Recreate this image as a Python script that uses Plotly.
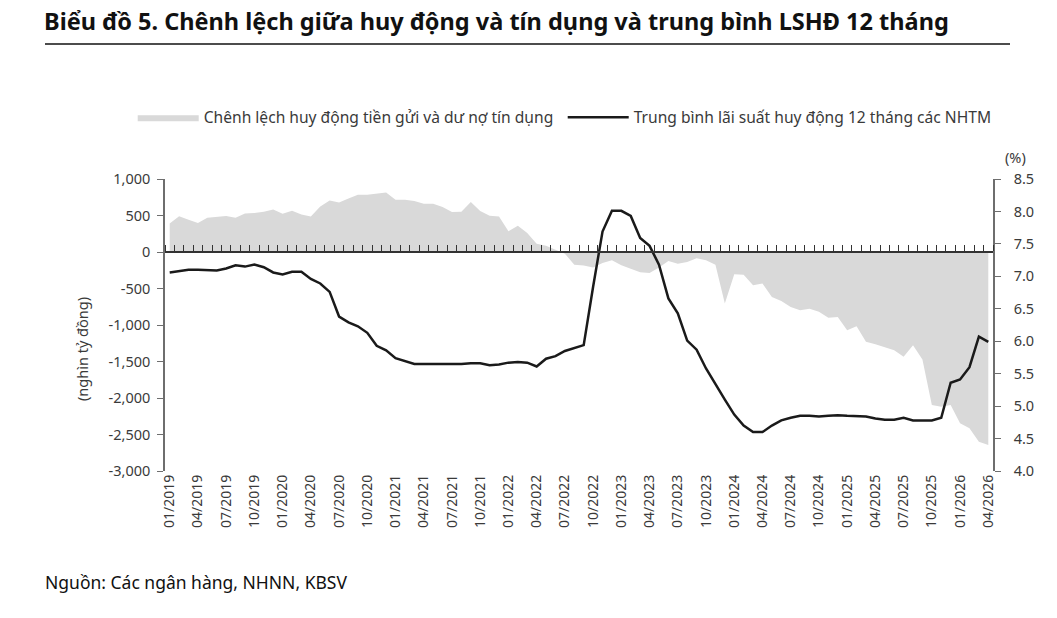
import plotly.graph_objects as go
import pandas as pd

months = [d.strftime("%m/%Y") for d in pd.date_range("2019-01-01", "2026-04-01", freq="MS")]

spread = [390, 490, 442, 397, 470, 479, 492, 470, 529, 533,
          551, 583, 524, 565, 515, 488, 624, 706, 679, 734,
          784, 784, 800, 816, 716, 716, 697, 661, 661, 615,
          547, 552, 684, 561, 497, 488, 283, 360, 260, 114,
          87, 36, -23, -173, -185, -214, -150, -114, -182, -228,
          -278, -287, -214, -123, -160, -137, -87, -114, -173, -706,
          -305, -310, -456, -433, -615, -670, -755, -798, -779, -820,
          -902, -889, -1071, -1016, -1231, -1263, -1308, -1345, -1436, -1276,
          -1472, -2097, -2120, -2097, -2347, -2416, -2598, -2644]

rate = [7.06, 7.08, 7.10, 7.10, 7.10, 7.09, 7.12, 7.17, 7.15, 7.18,
        7.14, 7.06, 7.03, 7.07, 7.07, 6.96, 6.89, 6.76, 6.38, 6.29,
        6.23, 6.13, 5.93, 5.86, 5.74, 5.69, 5.65, 5.65, 5.65, 5.65,
        5.64, 5.65, 5.66, 5.66, 5.63, 5.64, 5.67, 5.68, 5.67, 5.61,
        5.73, 5.77, 5.85, 5.90, 5.94, 6.84, 7.69, 8.01, 8.01, 7.93,
        7.59, 7.47, 7.18, 6.66, 6.43, 6.01, 5.87, 5.58, 5.33, 5.10,
        4.87, 4.70, 4.60, 4.60, 4.70, 4.78, 4.82, 4.85, 4.85, 4.84,
        4.85, 4.86, 4.85, 4.85, 4.84, 4.81, 4.79, 4.79, 4.82, 4.78,
        4.78, 4.78, 4.82, 5.36, 5.41, 5.60, 6.07, 5.99]

left_ticks = [1000, 500, 0, -500, -1000, -1500, -2000, -2500, -3000]
left_text = ["1,000", "500", "0", "-500", "-1,000", "-1,500", "-2,000", "-2,500", "-3,000"]
right_ticks = [8.5, 8.0, 7.5, 7.0, 6.5, 6.0, 5.5, 5.0, 4.5, 4.0]
right_text = ["8.5", "8.0", "7.5", "7.0", "6.5", "6.0", "5.5", "5.0", "4.5", "4.0"]

FONT = "Noto Sans"
TXT = "#3a3a3a"
AX = "#6e6e6e"

fig = go.Figure()
fig.add_trace(go.Scatter(
    x=months, y=spread, name="Chênh lệch huy động tiền gửi và dư nợ tín dụng",
    mode="lines", fill="tozeroy", fillcolor="#d9d9d9", line=dict(width=0, color="#d9d9d9"),
    xaxis="x", yaxis="y"))
fig.add_trace(go.Scatter(
    x=months, y=rate, name="Trung bình lãi suất huy động 12 tháng các NHTM",
    mode="lines", line=dict(color="#1a1a1a", width=2.5),
    xaxis="x2", yaxis="y2"))

fig.update_layout(
    width=1057, height=618,
    margin=dict(l=165, r=64, t=179, b=147),
    paper_bgcolor="white", plot_bgcolor="white",
    font=dict(family=FONT, color=TXT, size=14),
    showlegend=True,
    legend=dict(orientation="h", x=-0.039, xanchor="left", y=1.21, yanchor="middle",
                font=dict(size=15.6, color=TXT), itemwidth=61, tracegroupgap=0,
                entrywidth=354, entrywidthmode="pixels",
                bgcolor="rgba(0,0,0,0)"),
    xaxis=dict(type="category", categoryorder="array", categoryarray=months,
               range=[-0.5, len(months) - 0.5], tickmode="array", tickvals=months[::3],
               tickangle=-90, showline=False, ticks="", showgrid=False, zeroline=False,
               tickfont=dict(size=14, color=TXT)),
    xaxis2=dict(type="category", categoryorder="array", categoryarray=months,
                range=[-0.5, len(months) - 0.5], overlaying="x", anchor="free", position=0.75,
                side="top", showline=True, linecolor="#333333", linewidth=1.5,
                ticks="outside", ticklen=6, tickwidth=1, tickcolor="#333333",
                tickson="boundaries", tickmode="linear", tick0=0, dtick=1,
                showticklabels=False, showgrid=False, zeroline=False),
    yaxis=dict(range=[-3000, 1000], tickmode="array", tickvals=left_ticks, ticktext=left_text,
               showline=True, linecolor=AX, linewidth=1.5, ticks="outside", ticklen=6,
               tickcolor=AX, tickwidth=1.2, showgrid=False, zeroline=False, anchor="x",
               ticklabelstandoff=4, tickfont=dict(size=14.5, color=TXT)),
    yaxis2=dict(range=[4.0, 8.5], tickmode="array", tickvals=right_ticks, ticktext=right_text,
                overlaying="y", side="right", anchor="x",
                showline=True, linecolor=AX, linewidth=1.5, ticks="outside", ticklen=6,
                tickcolor=AX, tickwidth=1.2, showgrid=False, zeroline=False,
                ticklabelstandoff=10, tickfont=dict(size=14.5, color=TXT)),
    yaxis3=dict(range=[-3000, 1000], tickmode="array", tickvals=left_ticks,
                overlaying="y", side="left", anchor="x", showline=False, ticks="inside",
                ticklen=5, tickcolor=AX, tickwidth=1.2, showticklabels=False,
                showgrid=False, zeroline=False),
    yaxis4=dict(range=[4.0, 8.5], tickmode="array", tickvals=right_ticks,
                overlaying="y", side="right", anchor="x", showline=False, ticks="inside",
                ticklen=5, tickcolor=AX, tickwidth=1.2, showticklabels=False,
                showgrid=False, zeroline=False),
    title=dict(text="<b>Biểu đồ 5. Chênh lệch giữa huy động và tín dụng và trung bình LSHĐ 12 tháng</b>",
               xref="container", yref="container", x=44 / 1057, xanchor="left",
               y=1 - 22 / 618, yanchor="middle", font=dict(size=23.5, color="#111111", family=FONT)),
)

fig.add_shape(type="line", xref="paper", yref="paper",
              x0=(45 - 165) / 828, x1=(1010 - 165) / 828,
              y0=(471 - 44) / 292, y1=(471 - 44) / 292,
              line=dict(color="#111111", width=1.5))

fig.add_annotation(text="(nghìn tỷ đồng)", xref="paper", yref="paper",
                   x=(82 - 165) / 828, y=(471 - 349) / 292, textangle=-90,
                   showarrow=False, font=dict(size=14.5, color=TXT), xanchor="center", yanchor="middle")
fig.add_annotation(text="(%)", xref="paper", yref="paper",
                   x=(1016 - 165) / 828, y=(471 - 157) / 292,
                   showarrow=False, font=dict(size=14.5, color=TXT), xanchor="center", yanchor="middle")
fig.add_annotation(text="Nguồn: Các ngân hàng, NHNN, KBSV", xref="paper", yref="paper",
                   x=(43 - 165) / 828, y=(471 - 582) / 292, xanchor="left", yanchor="middle",
                   showarrow=False, font=dict(size=17.5, color="#111111"))

fig.write_html("out.html")
